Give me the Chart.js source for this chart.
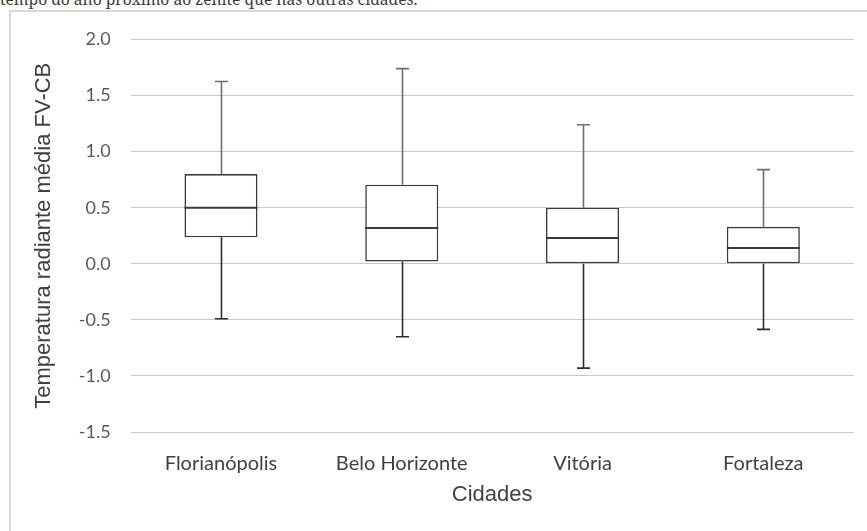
<!DOCTYPE html>
<html><head><meta charset="utf-8">
<script src="https://cdn.jsdelivr.net/npm/chart.js@4.4.1/dist/chart.umd.min.js"></script>
<style>
html,body{margin:0;padding:0;background:#fff;overflow:hidden}
#caption{position:absolute;left:0;top:-11px;font:15.6px "Noto Serif",serif;color:#3a3a3a;white-space:nowrap;line-height:20px}
#frame{position:absolute;left:9px;top:10px;width:900px;height:600px;border:2px solid #d9d9d9;box-sizing:border-box}
#wrap{position:absolute;left:0;top:0;width:867px;height:531px}
</style>
</head><body>
<div id="caption">tempo do ano próximo ao zênite que nas outras cidades.</div>
<div id="frame"></div>
<div id="wrap"><canvas id="c" width="867" height="531"></canvas></div>
<script>
// Cities and their five-number summaries
const cities = ['Florianópolis', 'Belo Horizonte', 'Vitória', 'Fortaleza'];
const whiskerLow = [-0.49, -0.65, -0.93, -0.585];
const quartile1 = [0.236, 0.02, 0.0, 0.0];
const medians = [0.50, 0.32, 0.23, 0.14];
const quartile3 = [0.80, 0.705, 0.50, 0.33];
const whiskerHigh = [1.625, 1.74, 1.24, 0.84];
const yTicks = [-1.5, -1.0, -0.5, 0.0, 0.5, 1.0, 1.5, 2.0];

const boxRanges = cities.map((_, i) => [quartile1[i], quartile3[i]]);

// Whiskers under the boxes, median lines over them
const boxplotLines = {
  id: 'boxplotLines',
  beforeDatasetsDraw(chart) {
    const { ctx, scales: { x, y } } = chart;
    const cap = 6.5;
    ctx.save();
    ctx.lineWidth = 1.6;
    cities.forEach((_, i) => {
      const cx = Math.round(x.getPixelForValue(i)) + 0.5;
      // upper whisker
      ctx.strokeStyle = '#6e6e6e';
      ctx.beginPath();
      ctx.moveTo(cx, y.getPixelForValue(quartile3[i]));
      ctx.lineTo(cx, y.getPixelForValue(whiskerHigh[i]));
      ctx.moveTo(cx - cap, y.getPixelForValue(whiskerHigh[i]));
      ctx.lineTo(cx + cap, y.getPixelForValue(whiskerHigh[i]));
      ctx.stroke();
      // lower whisker
      ctx.strokeStyle = '#2e2e2e';
      ctx.beginPath();
      ctx.moveTo(cx, y.getPixelForValue(quartile1[i]));
      ctx.lineTo(cx, y.getPixelForValue(whiskerLow[i]));
      ctx.moveTo(cx - cap, y.getPixelForValue(whiskerLow[i]));
      ctx.lineTo(cx + cap, y.getPixelForValue(whiskerLow[i]));
      ctx.stroke();
    });
    ctx.restore();
  },
  afterDatasetsDraw(chart) {
    const { ctx, scales: { y } } = chart;
    const meta = chart.getDatasetMeta(0);
    ctx.save();
    ctx.strokeStyle = '#3a3a3a';
    ctx.lineWidth = 2;
    meta.data.forEach((bar, i) => {
      const half = bar.width / 2;
      const my = y.getPixelForValue(medians[i]);
      ctx.beginPath();
      ctx.moveTo(bar.x - half, my);
      ctx.lineTo(bar.x + half, my);
      ctx.stroke();
    });
    ctx.restore();
  }
};

new Chart(document.getElementById('c'), {
  type: 'bar',
  data: {
    labels: cities,
    datasets: [{
      data: boxRanges,
      backgroundColor: '#ffffff',
      borderColor: '#3c3c3c',
      borderWidth: 1.6,
      borderSkipped: false,
      categoryPercentage: 1,
      barPercentage: 0.404
    }]
  },
  options: {
    responsive: false,
    animation: false,
    devicePixelRatio: 1,
    layout: { padding: { left: 0, top: 39.5, right: 13.3, bottom: 0 } },
    plugins: { legend: { display: false }, tooltip: { enabled: false } },
    scales: {
      x: {
        grid: { display: false, drawTicks: false },
        border: { display: false },
        ticks: { color: '#404040', font: { family: 'Lato', size: 20 }, padding: 20, maxRotation: 0 },
        title: { display: true, text: 'Cidades', color: '#404040', font: { family: 'Liberation Sans', size: 22 }, padding: { top: 0, bottom: 23 } },
        afterFit(s) { s.height = 99; }
      },
      y: {
        min: -1.5,
        max: 2.0,
        afterBuildTicks(s) { s.ticks = yTicks.map(v => ({ value: v })); },
        grid: { color: '#c8c8c8', lineWidth: 1, drawTicks: false, dash: [1, 1] },
        border: { display: false },
        ticks: { color: '#595959', font: { family: 'Lato', size: 18 }, padding: 20, callback: v => Number(v).toFixed(1) },
        title: { display: true, text: 'Temperatura radiante média FV-CB', color: '#404040', font: { family: 'Liberation Sans', size: 22 }, padding: { top: 31, bottom: 0 } },
        afterFit(s) { s.width = 130.6; }
      }
    }
  },
  plugins: [boxplotLines]
});
</script></body></html>
